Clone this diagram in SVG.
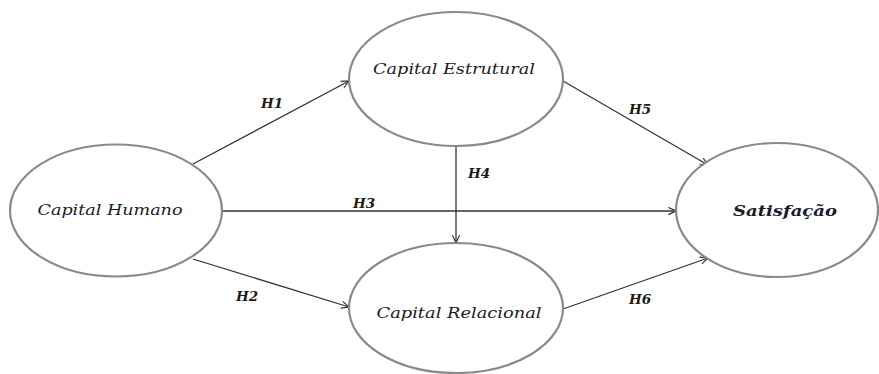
<svg xmlns="http://www.w3.org/2000/svg" width="879" height="374" viewBox="0 0 879 374">
<style>
.node{fill:#fff;stroke:#8a8a8a;stroke-width:2.2}
.lbl{font-family:"DejaVu Serif","Liberation Serif",serif;font-style:italic;font-size:15px;fill:#1a1a2e;text-anchor:middle}
.h{font-family:"DejaVu Serif","Liberation Serif",serif;font-style:italic;font-weight:bold;font-size:13.5px;fill:#1a1a1a;text-anchor:middle}
.c{stroke:#333;stroke-width:1.3;fill:none;marker-end:url(#arr)}
</style>
<defs>
<marker id="arr" viewBox="0 0 10 10" refX="9.5" refY="5" markerWidth="9" markerHeight="9" markerUnits="userSpaceOnUse" orient="auto">
<path d="M1,1 L9.5,5 L1,9" fill="none" stroke="#333" stroke-width="1.3"/>
</marker>
</defs>
<g id="connectors">
<line class="c" x1="193" y1="164" x2="349" y2="81"/>
<line class="c" x1="193" y1="259" x2="349" y2="307"/>
<line class="c" x1="222" y1="211" x2="676" y2="211"/>
<line class="c" x1="456" y1="146" x2="456" y2="243"/>
<line class="c" x1="563" y1="81" x2="708" y2="165"/>
<line class="c" x1="563" y1="309" x2="708" y2="258"/>
<text class="h" x="272" y="108">H1</text>
<text class="h" x="247" y="301">H2</text>
<text class="h" x="364" y="208">H3</text>
<text class="h" x="479" y="178">H4</text>
<text class="h" x="640" y="114">H5</text>
<text class="h" x="640" y="304">H6</text>
</g>
<g id="capital-humano">
<ellipse class="node" cx="116" cy="210.5" rx="106" ry="66"/>
<text class="lbl" x="110" y="215" textLength="145" lengthAdjust="spacingAndGlyphs">Capital Humano</text>
</g>
<g id="capital-estrutural">
<ellipse class="node" cx="456" cy="79" rx="107" ry="67"/>
<text class="lbl" x="454" y="74" textLength="162" lengthAdjust="spacingAndGlyphs">Capital Estrutural</text>
</g>
<g id="capital-relacional">
<ellipse class="node" cx="456" cy="308" rx="107" ry="65"/>
<text class="lbl" x="459" y="318" textLength="165" lengthAdjust="spacingAndGlyphs">Capital Relacional</text>
</g>
<g id="satisfacao">
<ellipse class="node" cx="777" cy="210" rx="101" ry="67"/>
<text class="lbl" x="785" y="216" style="font-weight:bold" textLength="104" lengthAdjust="spacingAndGlyphs">Satisfação</text>
</g>
</svg>
